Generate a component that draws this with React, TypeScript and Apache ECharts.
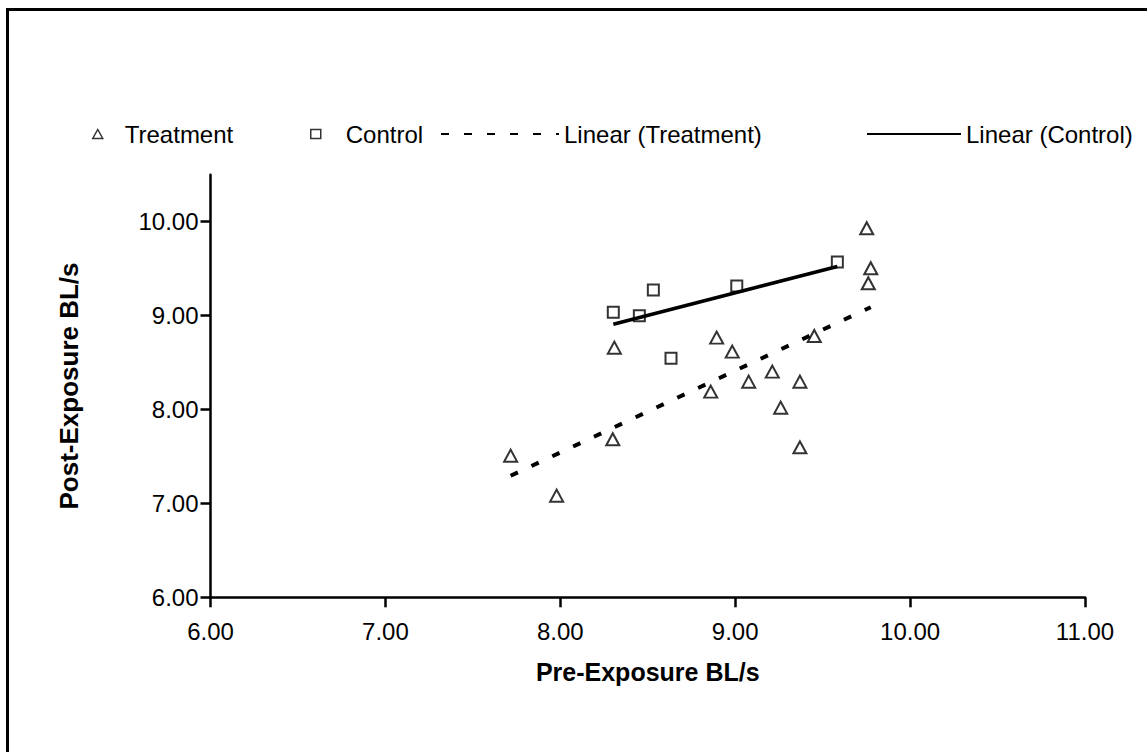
import React, { useEffect, useRef } from "react";
import * as echarts from "echarts";

const treatmentX = [9.752, 9.775, 9.761, 8.309, 8.894, 8.983, 9.452, 9.212, 9.077, 9.370, 8.860, 9.260, 8.300, 9.370, 7.716, 7.979];
const treatmentY = [9.930, 9.504, 9.344, 8.658, 8.765, 8.616, 8.783, 8.403, 8.296, 8.296, 8.190, 8.019, 7.683, 7.597, 7.508, 7.082];
const controlX = [9.584, 9.009, 8.532, 8.303, 8.452, 8.633];
const controlY = [9.571, 9.315, 9.273, 9.035, 8.999, 8.545];
const xTicks = [6, 7, 8, 9, 10, 11];
const yTicks = [6, 7, 8, 9, 10];
const xAxisTitle = "Pre-Exposure BL/s";
const yAxisTitle = "Post-Exposure BL/s";
const seriesNames = ["Treatment", "Control", "Linear (Treatment)", "Linear (Control)"];

function fitLine(xs: number[], ys: number[]): number[][] {
  const n = xs.length;
  const mx = xs.reduce((a, b) => a + b, 0) / n;
  const my = ys.reduce((a, b) => a + b, 0) / n;
  let sxy = 0, sxx = 0;
  for (let i = 0; i < n; i++) {
    sxy += (xs[i] - mx) * (ys[i] - my);
    sxx += (xs[i] - mx) * (xs[i] - mx);
  }
  const slope = sxy / sxx;
  const icpt = my - slope * mx;
  const x0 = Math.min(...xs);
  const x1 = Math.max(...xs);
  return [[x0, icpt + slope * x0], [x1, icpt + slope * x1]];
}

const FONT = '"Liberation Sans", Arial, sans-serif';

export default function App() {
  const ref = useRef<HTMLDivElement>(null);
  useEffect(() => {
    if (!ref.current) return;
    const chart = echarts.init(ref.current, null, { renderer: "svg" });
    const legendText = { fontSize: 24, fontFamily: FONT, color: "#000" };
    const hollow = { color: "rgba(0,0,0,0)", borderColor: "#000", borderWidth: 1.5 };
    const mk = (name: string, left: number, itemWidth: number, itemHeight: number, pad: number, itemStyle: any) => ({
      show: true,
      data: [name],
      left,
      top: 122,
      padding: 0,
      itemWidth,
      itemHeight,
      selectedMode: false,
      itemStyle,
      textStyle: { ...legendText, padding: [0, 0, 0, pad] },
    });
    chart.setOption({
      animation: false,
      backgroundColor: "#fff",
      graphic: [
        {
          type: "rect",
          silent: true,
          shape: { x: 7.5, y: 9.5, width: 1400, height: 1000 },
          style: { fill: "none", stroke: "#000", lineWidth: 3 },
        },
      ],
      legend: [
        mk(seriesNames[0], 92, 10, 9, 17, hollow),
        mk(seriesNames[1], 310, 10, 9, 20, hollow),
        mk(seriesNames[2], 440, 118, 10, 0, { opacity: 0 }),
        mk(seriesNames[3], 866, 94, 10, 0, { opacity: 0 }),
      ],
      grid: { left: 210.5, right: 62, top: 174.7, bottom: 154.7, containLabel: false },
      xAxis: {
        type: "value",
        min: 6,
        max: 11,
        interval: 1,
        name: xAxisTitle,
        nameLocation: "middle",
        nameGap: 62,
        nameTextStyle: { fontSize: 25, fontWeight: "bold", fontFamily: FONT, color: "#000" },
        axisLine: { show: true, onZero: false, lineStyle: { color: "#000", width: 2.5 } },
        axisTick: { show: true, length: 10, lineStyle: { color: "#000", width: 2.5 } },
        axisLabel: {
          margin: 22,
          fontSize: 24,
          fontFamily: FONT,
          color: "#000",
          formatter: (v: number) => v.toFixed(2),
          customValues: xTicks,
        },
        splitLine: { show: false },
      },
      yAxis: {
        type: "value",
        min: 6,
        max: 10.5,
        name: yAxisTitle,
        nameLocation: "middle",
        nameGap: 129,
        nameRotate: 90,
        nameTextStyle: { fontSize: 26, fontWeight: "bold", fontFamily: FONT, color: "#000" },
        axisLine: { show: true, onZero: false, lineStyle: { color: "#000", width: 2.5 } },
        axisTick: { show: true, length: 10, lineStyle: { color: "#000", width: 2.5 }, customValues: yTicks },
        axisLabel: {
          margin: 12,
          fontSize: 24,
          fontFamily: FONT,
          color: "#000",
          formatter: (v: number) => v.toFixed(2),
          customValues: yTicks,
        },
        splitLine: { show: false },
      },
      series: [
        {
          name: seriesNames[0],
          type: "scatter",
          symbol: "triangle",
          symbolSize: [13, 12],
          itemStyle: { color: "rgba(0,0,0,0)", borderColor: "#000", borderWidth: 2 },
          data: treatmentX.map((x, i) => [x, treatmentY[i]]),
          z: 3,
        },
        {
          name: seriesNames[1],
          type: "scatter",
          symbol: "rect",
          symbolSize: 11,
          itemStyle: { color: "rgba(0,0,0,0)", borderColor: "#000", borderWidth: 2 },
          data: controlX.map((x, i) => [x, controlY[i]]),
          z: 3,
        },
        {
          name: seriesNames[2],
          type: "line",
          symbol: "none",
          lineStyle: { color: "#000", width: 4, type: [8, 15], cap: "butt" },
          itemStyle: { color: "#000" },
          data: fitLine(treatmentX, treatmentY),
          z: 2,
        },
        {
          name: seriesNames[3],
          type: "line",
          symbol: "none",
          lineStyle: { color: "#000", width: 3.5, type: "solid" },
          itemStyle: { color: "#000" },
          data: fitLine(controlX, controlY),
          z: 2,
        },
      ],
    });
    return () => chart.dispose();
  }, []);
  return (
    <div
      ref={ref}
      style={{ position: "absolute", left: 0, top: 0, width: 1147, height: 752, background: "#fff" }}
    />
  );
}
